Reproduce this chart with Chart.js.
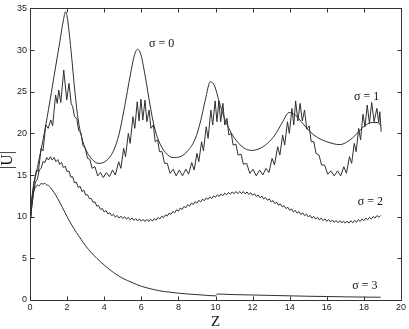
<!DOCTYPE html>
<html>
<head>
<meta charset="utf-8">
<script src="https://cdn.jsdelivr.net/npm/chart.js@4.4.0/dist/chart.umd.min.js"></script>
<style>
html, body { margin: 0; padding: 0; background: #fff; }
#wrap { width: 409px; height: 329px; }
</style>
</head>
<body>
<div id="wrap"><canvas id="grafico" width="409" height="329"></canvas></div>
<script>
// |U| against Z for four values of sigma
const sigma0 = [[0,9.0],[0.1,11.6],[0.2,13.6],[0.4,15.9],[0.7,19.2],[1.0,22.9],[1.3,26.9],[1.6,30.9],[1.8,33.6],[1.92,34.6],[2.03,33.6],[2.2,30.2],[2.43,24.8],[2.6,21.6],[2.8,19.4],[3.0,18.1],[3.3,17.0],[3.7,16.4],[4.1,16.7],[4.5,17.9],[4.8,19.9],[5.1,23.2],[5.4,26.9],[5.62,29.3],[5.8,30.1],[5.97,29.5],[6.2,27.0],[6.47,23.4],[6.7,20.8],[6.92,19.2],[7.3,17.7],[7.7,17.1],[8.1,17.2],[8.5,17.9],[8.9,19.3],[9.2,21.5],[9.45,24.0],[9.72,26.2],[9.95,25.7],[10.2,23.8],[10.45,22.0],[10.7,20.7],[11.0,19.5],[11.5,18.3],[11.95,17.95],[12.4,18.2],[12.8,18.8],[13.2,19.8],[13.6,21.3],[13.96,22.5],[14.3,22.2],[14.7,21.2],[15.1,20.2],[15.5,19.5],[16.0,19.0],[16.7,18.65],[17.3,19.3],[17.8,20.4],[18.1,21.0],[18.45,21.3],[18.75,21.3],[18.92,20.9]];

const sigma1 = [[0,9.0],[0.08,12.0],[0.2,14.0],[0.35,15.6],[0.45,15.4],[0.6,18.2],[0.7,17.9],[0.85,21.0],[0.98,20.6],[1.12,21.6],[1.22,20.9],[1.38,24.6],[1.47,23.6],[1.55,25.2],[1.66,23.7],[1.82,27.6],[1.98,24.0],[2.1,26.0],[2.22,23.6],[2.3,23.2],[2.4,22.0],[2.52,21.8],[2.62,20.4],[2.75,20.0],[2.85,18.6],[2.98,18.2],[3.1,17.0],[3.22,16.9],[3.35,15.8],[3.5,16.0],[3.65,14.9],[3.8,15.3],[3.95,14.7],[4.12,15.3],[4.28,14.8],[4.45,15.6],[4.6,15.0],[4.78,16.6],[4.9,15.8],[5.05,18.2],[5.15,17.2],[5.3,20.0],[5.4,18.8],[5.55,22.0],[5.65,20.6],[5.78,23.8],[5.88,21.5],[5.98,24.1],[6.08,21.6],[6.2,24.0],[6.3,21.4],[6.42,22.8],[6.52,20.6],[6.65,21.0],[6.75,19.0],[6.88,19.2],[6.98,17.8],[7.12,17.8],[7.25,16.4],[7.4,16.4],[7.55,15.2],[7.72,15.7],[7.88,14.9],[8.05,15.6],[8.22,14.9],[8.4,15.7],[8.55,15.1],[8.72,16.5],[8.85,15.6],[9.0,17.6],[9.1,16.6],[9.25,19.0],[9.35,17.9],[9.5,20.8],[9.6,19.4],[9.75,22.8],[9.85,21.0],[9.98,23.9],[10.08,21.4],[10.18,23.9],[10.28,21.4],[10.4,23.6],[10.5,21.0],[10.62,21.8],[10.72,19.8],[10.85,20.0],[10.95,18.6],[11.1,18.7],[11.22,17.4],[11.38,17.5],[11.5,16.3],[11.68,16.4],[11.85,15.2],[12.02,15.7],[12.2,14.9],[12.38,15.6],[12.55,15.0],[12.72,15.8],[12.88,15.3],[13.05,17.0],[13.18,16.2],[13.35,18.4],[13.47,17.4],[13.62,19.8],[13.73,18.6],[13.88,21.4],[13.98,20.0],[14.12,23.0],[14.22,21.0],[14.32,23.9],[14.44,21.5],[14.56,23.6],[14.68,21.5],[14.8,22.8],[14.92,20.5],[15.05,20.9],[15.16,19.0],[15.3,19.0],[15.42,17.6],[15.58,17.4],[15.72,16.2],[15.88,16.2],[16.05,15.1],[16.22,15.5],[16.4,14.9],[16.58,15.5],[16.75,14.9],[16.92,16.0],[17.06,15.2],[17.22,17.2],[17.34,16.4],[17.48,18.8],[17.58,17.8],[17.72,20.6],[17.82,19.2],[17.95,22.3],[18.06,20.8],[18.18,23.4],[18.3,21.2],[18.42,23.7],[18.55,21.4],[18.7,23.0],[18.8,21.3],[18.86,22.6],[18.93,20.2]];

const sigma2 = [[0,9.0],[0.1,11.3],[0.2,13.0],[0.3,14.2],[0.4,14.5],[0.5,15.6],[0.6,15.8],[0.7,16.6],[0.8,16.5],[0.9,17.1],[1.0,16.8],[1.1,17.2],[1.2,16.8],[1.3,17.1],[1.4,16.6],[1.5,16.85],[1.6,16.3],[1.7,16.5],[1.8,15.9],[1.9,16.05],[2.0,15.4],[2.1,15.5],[2.2,14.75],[2.3,14.8],[2.4,14.05],[2.5,14.15],[2.6,13.5],[2.7,13.65],[2.8,13.0],[2.9,13.2],[3.0,12.6],[3.1,12.63],[3.2,12.17],[3.3,12.18],[3.4,11.72],[3.5,11.78],[3.6,11.27],[3.7,11.33],[3.8,10.87],[3.9,10.98],[4.0,10.57],[4.1,10.73],[4.2,10.32],[4.3,10.48],[4.4,10.12],[4.5,10.28],[4.6,9.95],[4.7,10.15],[4.8,9.84],[4.9,10.06],[5.0,9.77],[5.1,9.99],[5.2,9.7],[5.3,9.92],[5.4,9.62],[5.5,9.85],[5.6,9.55],[5.7,9.78],[5.8,9.49],[5.9,9.73],[6.0,9.45],[6.1,9.69],[6.2,9.42],[6.3,9.68],[6.4,9.42],[6.5,9.7],[6.6,9.47],[6.7,9.78],[6.8,9.57],[6.9,9.91],[7.0,9.72],[7.1,10.06],[7.2,9.87],[7.3,10.23],[7.4,10.07],[7.5,10.43],[7.6,10.27],[7.7,10.63],[7.8,10.47],[7.9,10.83],[8.0,10.67],[8.1,11.03],[8.2,10.87],[8.3,11.23],[8.4,11.07],[8.5,11.43],[8.6,11.27],[8.7,11.63],[8.8,11.47],[8.9,11.81],[9.0,11.62],[9.1,11.96],[9.2,11.77],[9.3,12.11],[9.4,11.92],[9.5,12.26],[9.6,12.07],[9.7,12.38],[9.8,12.17],[9.9,12.51],[10.0,12.32],[10.1,12.63],[10.2,12.42],[10.3,12.73],[10.4,12.52],[10.5,12.83],[10.6,12.62],[10.7,12.92],[10.8,12.69],[10.9,12.98],[11.0,12.74],[11.1,13.02],[11.2,12.77],[11.3,13.03],[11.4,12.77],[11.5,13.02],[11.6,12.74],[11.7,12.97],[11.8,12.67],[11.9,12.88],[12.0,12.57],[12.1,12.76],[12.2,12.42],[12.3,12.61],[12.4,12.27],[12.5,12.46],[12.6,12.12],[12.7,12.31],[12.8,11.97],[12.9,12.13],[13.0,11.77],[13.1,11.93],[13.2,11.57],[13.3,11.73],[13.4,11.37],[13.5,11.53],[13.6,11.17],[13.7,11.33],[13.8,10.97],[13.9,11.13],[14.0,10.77],[14.1,10.93],[14.2,10.57],[14.3,10.76],[14.4,10.42],[14.5,10.61],[14.6,10.27],[14.7,10.46],[14.8,10.12],[14.9,10.31],[15.0,9.97],[15.1,10.16],[15.2,9.82],[15.3,10.03],[15.4,9.72],[15.5,9.93],[15.6,9.62],[15.7,9.83],[15.8,9.52],[15.9,9.74],[16.0,9.44],[16.1,9.66],[16.2,9.37],[16.3,9.6],[16.4,9.32],[16.5,9.55],[16.6,9.27],[16.7,9.51],[16.8,9.24],[16.9,9.49],[17.0,9.22],[17.1,9.48],[17.2,9.23],[17.3,9.51],[17.4,9.27],[17.5,9.56],[17.6,9.34],[17.7,9.64],[17.8,9.42],[17.9,9.73],[18.0,9.52],[18.1,9.83],[18.2,9.62],[18.3,9.93],[18.4,9.72],[18.5,10.03],[18.6,9.82],[18.7,10.14],[18.8,9.94],[18.9,10.13]];

const sigma3 = [[0,9.0],[0.1,11.3],[0.2,13.0],[0.3,13.5],[0.4,13.8],[0.5,13.7],[0.6,14.0],[0.7,13.9],[0.8,14.0],[0.9,13.8],[1.0,13.75],[1.1,13.5],[1.3,12.9],[1.5,12.15],[1.75,11.1],[2.0,10.0],[2.25,9.0],[2.5,8.1],[2.75,7.3],[3.0,6.5],[3.3,5.7],[3.6,5.0],[4.0,4.2],[4.5,3.3],[5.0,2.6],[5.5,2.1],[6.0,1.65],[6.5,1.35],[7.0,1.1],[7.5,0.95],[8.0,0.82],[8.5,0.72],[9.0,0.65],[9.5,0.56],[10.0,0.5],[10.1,0.72],[10.3,0.7],[11.0,0.65],[12.0,0.6],[13.0,0.55],[14.0,0.5],[15.0,0.45],[16.0,0.42],[17.0,0.38],[18.0,0.35],[18.9,0.33]];

const curveNames = ['σ = 0', 'σ = 1', 'σ = 2', 'σ = 3'];
// where each name sits, in data units (Z, |U|)
const nameAtZ = [7.1, 18.15, 18.35, 18.05];
const nameAtU = [30.8, 24.4, 11.8, 1.75];

const xLabel = 'Z';
const yLabel = '|U|';

const toPts = (arr) => arr.map(p => ({x: p[0], y: p[1]}));
const lineColor = '#303030';

let ctx = document.getElementById('grafico');

// frame with inward ticks on all four sides, plus the text labels
const framePlugin = {
    id: 'frame',
    afterDraw(chart) {
        const c = chart.ctx;
        const a = chart.chartArea;
        const xs = chart.scales.x;
        const ys = chart.scales.y;
        c.save();
        c.strokeStyle = '#333';
        c.lineWidth = 1;
        const L = Math.round(a.left) + 0.5, R = Math.round(a.right) + 0.5;
        const T = Math.round(a.top) + 0.5, B = Math.round(a.bottom) + 0.5;
        c.strokeRect(L, T, R - L, B - T);
        c.beginPath();
        xs.ticks.forEach(t => {
            const px = Math.round(xs.getPixelForValue(t.value)) + 0.5;
            c.moveTo(px, B); c.lineTo(px, B - 4);
            c.moveTo(px, T); c.lineTo(px, T + 4);
        });
        ys.ticks.forEach(t => {
            const py = Math.round(ys.getPixelForValue(t.value)) + 0.5;
            c.moveTo(L, py); c.lineTo(L + 4, py);
            c.moveTo(R, py); c.lineTo(R - 4, py);
        });
        c.stroke();

        c.fillStyle = '#111';
        c.font = '12px "Liberation Serif"';
        c.textAlign = 'center';
        c.textBaseline = 'middle';
        curveNames.forEach((name, i) => {
            c.fillText(name, xs.getPixelForValue(nameAtZ[i]), ys.getPixelForValue(nameAtU[i]));
        });

        c.font = '15px "Liberation Serif"';
        c.fillText(xLabel, (a.left + a.right) / 2, a.bottom + 22);

        c.font = '16px "Liberation Serif"';
        c.translate(8, 160);
        c.rotate(-Math.PI / 2);
        c.fillText(yLabel, 0, 0);
        c.restore();
    }
};

const tickFont = { family: '"Liberation Sans", Arial, sans-serif', size: 9 };

new Chart(ctx.getContext('2d'), {
    type: 'line',
    data: {
        datasets: [
            { label: curveNames[0], data: toPts(sigma0), cubicInterpolationMode: 'monotone' },
            { label: curveNames[1], data: toPts(sigma1), tension: 0 },
            { label: curveNames[2], data: toPts(sigma2), tension: 0 },
            { label: curveNames[3], data: toPts(sigma3), cubicInterpolationMode: 'monotone' }
        ].map(d => Object.assign(d, {
            borderColor: lineColor,
            borderWidth: 1,
            pointRadius: 0,
            fill: false
        }))
    },
    options: {
        responsive: false,
        animation: false,
        devicePixelRatio: 1,
        layout: { padding: { left: 0, right: 8, top: 8, bottom: 0 } },
        scales: {
            x: {
                type: 'linear',
                min: 0,
                max: 20,
                grid: { display: false, drawTicks: false },
                border: { display: false },
                ticks: { stepSize: 2, font: tickFont, color: '#222', padding: 2, maxRotation: 0, autoSkip: false },
                afterFit(scale) { scale.height = 29; }
            },
            y: {
                type: 'linear',
                min: 0,
                max: 35,
                grid: { display: false, drawTicks: false },
                border: { display: false },
                ticks: { stepSize: 5, font: tickFont, color: '#222', padding: 3 },
                afterFit(scale) { scale.width = 30; }
            }
        },
        plugins: {
            legend: { display: false },
            tooltip: { enabled: false }
        }
    },
    plugins: [framePlugin]
});
</script>
</body>
</html>
